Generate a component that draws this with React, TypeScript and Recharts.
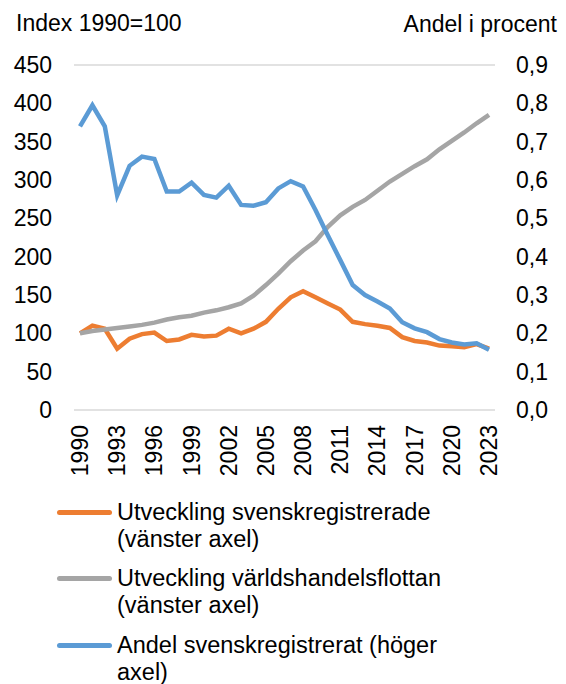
import { LineChart, Line, XAxis, YAxis, CartesianGrid } from "recharts";

const years = [
  1990, 1991, 1992, 1993, 1994, 1995, 1996, 1997, 1998, 1999, 2000, 2001,
  2002, 2003, 2004, 2005, 2006, 2007, 2008, 2009, 2010, 2011, 2012, 2013,
  2014, 2015, 2016, 2017, 2018, 2019, 2020, 2021, 2022, 2023,
];

// Utveckling svenskregistrerade (index, vänster axel)
const svenskregistrerade = [
  100, 110, 106, 80, 93, 99, 101, 90, 92, 98, 96, 97,
  106, 100, 106, 115, 132, 147, 155, 147, 139, 131, 115, 112,
  110, 107, 95, 90, 88, 84, 83, 82, 86, 80,
];

// Utveckling världshandelsflottan (index, vänster axel)
const varldshandelsflottan = [
  100, 103, 105, 107, 109, 111, 114, 118, 121, 123, 127, 130,
  134, 139, 149, 163, 178, 194, 208, 220, 239, 254, 265, 274,
  286, 298, 308, 318, 327, 340, 351, 362, 374, 385,
];

// Andel svenskregistrerat (procent, höger axel)
const andel = [
  0.74, 0.795, 0.74, 0.56, 0.637, 0.661, 0.655, 0.57, 0.57, 0.593, 0.561, 0.554,
  0.585, 0.535, 0.533, 0.542, 0.578, 0.597, 0.583, 0.522, 0.455, 0.391, 0.326, 0.3,
  0.283, 0.265, 0.229, 0.213, 0.203, 0.185, 0.176, 0.171, 0.174, 0.157,
];

const leftTicks = [0, 50, 100, 150, 200, 250, 300, 350, 400, 450];
const rightTicks = [0, 0.1, 0.2, 0.3, 0.4, 0.5, 0.6, 0.7, 0.8, 0.9];
const xTicks = [1990, 1993, 1996, 1999, 2002, 2005, 2008, 2011, 2014, 2017, 2020, 2023];

const ORANGE = "#ED7D31";
const GRAY = "#A5A5A5";
const BLUE = "#5B9BD5";
const FONT = "'Liberation Sans', Arial, sans-serif";
const FS = 23;

const data = years.map((y, i) => ({
  year: y,
  sv: svenskregistrerade[i],
  world: varldshandelsflottan[i],
  andel: andel[i],
}));

const legendItems = [
  { color: ORANGE, lines: ["Utveckling svenskregistrerade", "(vänster axel)"], top: 499 },
  { color: GRAY, lines: ["Utveckling världshandelsflottan", "(vänster axel)"], top: 565 },
  { color: BLUE, lines: ["Andel svenskregistrerat (höger", "axel)"], top: 632 },
];

const YearTick = (props: any) => {
  const { x, y, payload } = props;
  return (
    <text
      x={x}
      y={y}
      transform={`rotate(-90, ${x}, ${y})`}
      textAnchor="end"
      dominantBaseline="central"
      fontSize={FS}
      fontFamily={FONT}
      fill="#000"
    >
      {payload.value}
    </text>
  );
};

export default function App() {
  return (
    <div
      style={{
        position: "absolute",
        left: 0,
        top: 0,
        width: 566,
        height: 684,
        overflow: "hidden",
        background: "#fff",
        fontFamily: FONT,
      }}
    >
      <div style={{ position: "absolute", left: 16, top: 12, fontSize: FS, lineHeight: "23px" }}>
        Index 1990=100
      </div>
      <div style={{ position: "absolute", right: 9, top: 13, fontSize: FS, lineHeight: "23px" }}>
        Andel i procent
      </div>

      <LineChart
        width={566}
        height={480}
        data={data}
        margin={{ top: 65, right: 0, left: 0, bottom: 0 }}
      >
        <CartesianGrid vertical={false} stroke="#D9D9D9" strokeWidth={1.5} />
        <XAxis
          dataKey="year"
          ticks={xTicks}
          interval={0}
          height={70}
          tickLine={false}
          axisLine={false}
          tickSize={0}
          tickMargin={15}
          padding={{ left: 6, right: 6 }}
          tick={<YearTick />}
        />
        <YAxis
          yAxisId="left"
          orientation="left"
          width={74}
          domain={[0, 450]}
          ticks={leftTicks}
          interval={0}
          tickLine={false}
          axisLine={false}
          tickSize={0}
          tickMargin={22}
          tick={{ fill: "#000", fontSize: FS, fontFamily: FONT }}
        />
        <YAxis
          yAxisId="right"
          orientation="right"
          width={71}
          domain={[0, 0.9]}
          ticks={rightTicks}
          interval={0}
          tickLine={false}
          axisLine={false}
          tickSize={0}
          tickMargin={21}
          tickFormatter={(v: number) => v.toFixed(1).replace(".", ",")}
          tick={{ fill: "#000", fontSize: FS, fontFamily: FONT, textAnchor: "start" }}
        />
        <Line
          yAxisId="left"
          type="linear"
          dataKey="sv"
          stroke={ORANGE}
          strokeWidth={4.5}
          dot={false}
          isAnimationActive={false}
        />
        <Line
          yAxisId="left"
          type="linear"
          dataKey="world"
          stroke={GRAY}
          strokeWidth={4.5}
          dot={false}
          isAnimationActive={false}
        />
        <Line
          yAxisId="right"
          type="linear"
          dataKey="andel"
          stroke={BLUE}
          strokeWidth={4.5}
          dot={false}
          isAnimationActive={false}
        />
      </LineChart>

      {legendItems.map((item) => (
        <div
          key={item.color}
          style={{ position: "absolute", left: 57, top: item.top, display: "flex" }}
        >
          <div style={{ width: 55, height: 27, position: "relative", marginRight: 5 }}>
            <div
              style={{
                position: "absolute",
                left: 0,
                top: 11,
                width: 55,
                height: 5,
                borderRadius: 2.5,
                background: item.color,
              }}
            />
          </div>
          <div style={{ fontSize: 23.5, lineHeight: "27px", color: "#000" }}>
            {item.lines.map((l) => (
              <div key={l} style={{ whiteSpace: "nowrap" }}>{l}</div>
            ))}
          </div>
        </div>
      ))}
    </div>
  );
}
